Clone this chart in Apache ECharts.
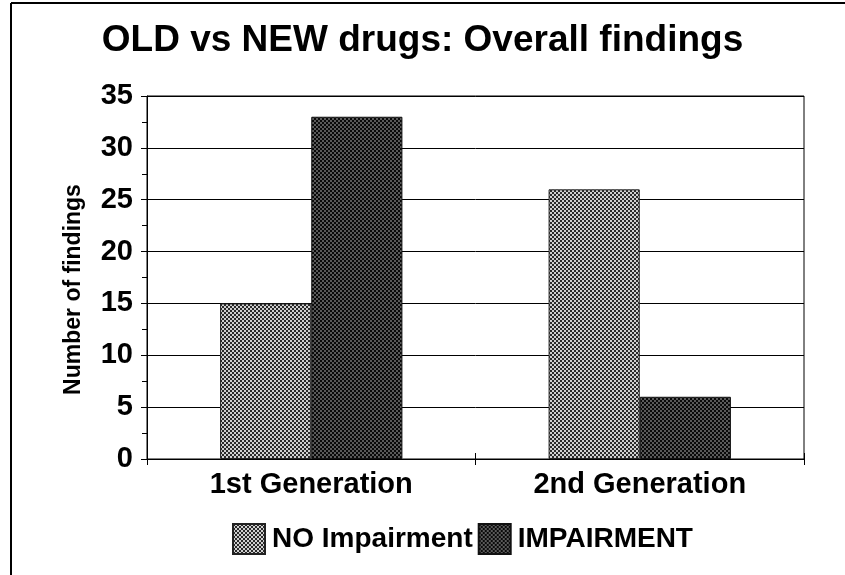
<!DOCTYPE html>
<html>
<head>
<meta charset="utf-8">
<script src="https://cdn.jsdelivr.net/npm/echarts@6/dist/echarts.min.js"></script>
<style>
html,body{margin:0;padding:0;background:#fff;}
#c{width:845px;height:575px;}
</style>
</head>
<body>
<div id="c"></div>
<script>
var categories = ['1st Generation', '2nd Generation'];
var noImpairment = [15, 26];
var impairment = [33, 6];
var seriesNames = ['NO Impairment', 'IMPAIRMENT'];

function makePattern(dark, light, size) {
  var cv = document.createElement('canvas');
  cv.width = size; cv.height = size;
  var ctx = cv.getContext('2d');
  ctx.fillStyle = light; ctx.fillRect(0, 0, size, size);
  ctx.fillStyle = dark;
  var h = size / 2;
  ctx.fillRect(0, 0, h, h);
  ctx.fillRect(h, h, h, h);
  return cv;
}
var patNo = makePattern('#2a2a2a', '#d0d0d0', 4);
var patImp = makePattern('#0a0a0a', '#5a5a5a', 4);

var chart = echarts.init(document.getElementById('c'), null, {renderer: 'canvas'});
var font = '"Liberation Sans", Arial, sans-serif';
chart.setOption({
  animation: false,
  backgroundColor: '#fff',
  title: {
    text: 'OLD vs NEW drugs: Overall findings',
    left: 'center', top: 17,
    textStyle: {fontFamily: font, fontWeight: 'bold', fontSize: 37, color: '#000'}
  },
  grid: {left: 147, top: 96, width: 657, height: 363, containLabel: false,
         show: true, borderColor: '#000', borderWidth: 1},
  legend: {
    data: seriesNames,
    bottom: 15, left: 227,
    itemWidth: 32, itemHeight: 30, itemGap: 5,
    textStyle: {fontFamily: font, fontWeight: 'bold', fontSize: 28, color: '#000', padding: [0, 0, 0, 2]},
    icon: 'rect'
  },
  xAxis: [{
    type: 'category', data: categories,
    axisLine: {lineStyle: {color: '#000', width: 1}},
    axisTick: {show: true, length: 6, lineStyle: {color: '#000'}},
    axisLabel: {fontFamily: font, fontWeight: 'bold', fontSize: 29, color: '#000', margin: 11}
  }, {
    type: 'category', data: categories, position: 'bottom',
    axisLine: {show: false},
    axisTick: {show: true, inside: true, length: 6, lineStyle: {color: '#000'}},
    axisLabel: {show: false}
  }],
  yAxis: [{
    type: 'value', min: 0, max: 35, interval: 5,
    name: 'Number of findings', nameLocation: 'middle', nameGap: 62,
    nameTextStyle: {fontFamily: font, fontWeight: 'bold', fontSize: 23, color: '#000', padding: [0, 24, 0, 0]},
    axisLine: {show: true, lineStyle: {color: '#000'}},
    axisTick: {show: true, length: 6, lineStyle: {color: '#000'}},
    minorTick: {show: true, splitNumber: 2, length: 5, lineStyle: {color: '#000'}},
    splitLine: {lineStyle: {color: '#000', width: 1}},
    axisLabel: {fontFamily: font, fontWeight: 'bold', fontSize: 29, color: '#000', margin: 14}
  }, {
    type: 'value', min: 0, max: 35, interval: 5, position: 'left',
    axisLine: {show: false},
    axisTick: {show: false},
    minorTick: {show: true, splitNumber: 2, length: 5, lineStyle: {color: '#000'}},
    splitLine: {show: false},
    axisLabel: {show: false}
  }],
  series: [
    {name: seriesNames[0], type: 'bar', data: noImpairment, barGap: '0%', barCategoryGap: '44.5%',
     itemStyle: {color: {image: patNo, repeat: 'repeat'}, borderColor: '#222', borderWidth: 1}},
    {name: seriesNames[1], type: 'bar', data: impairment, barGap: '0%', barCategoryGap: '44.5%',
     itemStyle: {color: {image: patImp, repeat: 'repeat'}, borderColor: '#111', borderWidth: 1}}
  ],
  graphic: [
    {type: 'line', shape: {x1: 11, y1: 3, x2: 845, y2: 3}, style: {stroke: '#000', lineWidth: 2}},
    {type: 'line', shape: {x1: 11, y1: 3, x2: 11, y2: 575}, style: {stroke: '#000', lineWidth: 2}}
  ]
});
</script>
</body>
</html>
